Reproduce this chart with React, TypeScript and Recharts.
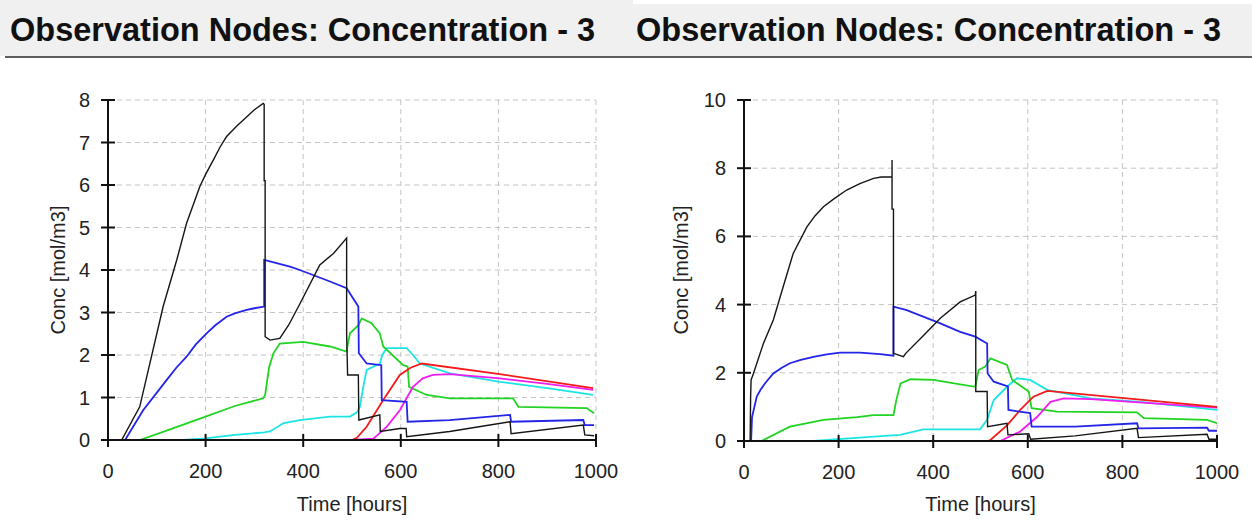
import { LineChart, Line, XAxis, YAxis, CartesianGrid } from 'recharts';

type Pt = [number, number];

// [time (hours), conc (mol/m3)]
const timeTicks = [0, 200, 400, 600, 800, 1000];
const leftConcTicks = [0, 1, 2, 3, 4, 5, 6, 7, 8];
const rightConcTicks = [0, 2, 4, 6, 8, 10];
const panelTitle = 'Observation Nodes: Concentration - 3';

const leftBlack: Pt[] = [
  [28, 0], [65, 0.78], [113, 3.14], [141, 4.24], [161, 5.1], [188, 5.96], [200, 6.25], [216, 6.59],
  [230, 6.9], [243, 7.14], [265, 7.4], [284, 7.6], [300, 7.77], [318, 7.92], [320, 7.9], [320, 6.1],
  [322, 6.1], [322, 2.43], [332, 2.35], [352, 2.39], [370, 2.7], [393, 3.2], [434, 4.12], [462, 4.39],
  [489, 4.75], [489, 2.5], [491, 1.53], [513, 1.53], [514, 0.47], [557, 0.59], [558, 0.2], [598, 0.27],
  [611, 0.27], [612, 0.08], [700, 0.2], [824, 0.43], [826, 0.15], [974, 0.35], [977, 0.12], [996, 0.1],
];
const leftBlue: Pt[] = [
  [35, 0], [72, 0.7], [120, 1.41], [140, 1.7], [161, 1.96], [180, 2.25], [202, 2.51], [220, 2.7],
  [243, 2.9], [260, 2.98], [284, 3.06], [300, 3.1], [320, 3.14], [320, 4.24], [373, 4.08], [393, 4.0],
  [455, 3.73], [489, 3.57], [513, 3.14], [514, 2.04], [530, 1.8], [560, 1.76], [561, 0.94], [612, 0.9],
  [614, 0.43], [700, 0.47], [824, 0.59], [826, 0.43], [974, 0.47], [977, 0.35], [996, 0.35],
];
const leftGreen: Pt[] = [
  [65, 0], [120, 0.22], [200, 0.55], [260, 0.8], [318, 0.98], [322, 1.06], [330, 1.7], [339, 2.04],
  [352, 2.27], [400, 2.31], [455, 2.2], [489, 2.08], [492, 2.3], [496, 2.51], [513, 2.7], [520, 2.86],
  [540, 2.75], [557, 2.51], [564, 2.2], [605, 1.76], [614, 1.73], [617, 1.25], [653, 1.06], [701, 0.98],
  [830, 0.98], [841, 0.78], [981, 0.75], [996, 0.63],
];
const leftCyan: Pt[] = [
  [154, 0], [200, 0.04], [260, 0.12], [320, 0.18], [332, 0.2], [360, 0.4], [393, 0.47], [455, 0.55],
  [496, 0.55], [510, 0.65], [516, 0.78], [524, 1.3], [530, 1.65], [557, 1.8], [562, 2.0], [571, 2.16],
  [612, 2.16], [625, 2.0], [639, 1.8], [701, 1.57], [803, 1.37], [900, 1.22], [994, 1.06],
];
const leftRed: Pt[] = [
  [320, 0], [500, 0], [510, 0.05], [530, 0.31], [564, 0.94], [598, 1.53], [620, 1.7], [643, 1.8],
  [803, 1.55], [994, 1.22],
];
const leftMagenta: Pt[] = [
  [500, 0], [544, 0.03], [571, 0.31], [598, 0.7], [625, 1.25], [645, 1.45], [666, 1.53], [701, 1.55],
  [803, 1.45], [900, 1.32], [994, 1.18],
];

const rightBlack: Pt[] = [
  [13, 0], [14, 1.3], [15, 1.79], [20, 1.98], [41, 2.86], [62, 3.55], [83, 4.53], [104, 5.5],
  [133, 6.28], [150, 6.6], [168, 6.87], [190, 7.1], [217, 7.36], [245, 7.55], [274, 7.7], [290, 7.74],
  [313, 7.74], [313, 8.24], [313, 6.8], [316, 6.8], [316, 2.57], [337, 2.47], [342, 2.57], [380, 3.1],
  [415, 3.6], [457, 4.08], [489, 4.28], [490, 4.4], [490, 1.45], [514, 1.45], [515, 0.42], [556, 0.52],
  [558, 0.18], [602, 0.21], [606, 0.05], [700, 0.15], [831, 0.37], [834, 0.1], [979, 0.2], [983, 0.05],
  [1000, 0.05],
];
const rightBlue: Pt[] = [
  [15, 0], [17, 0.7], [27, 1.3], [35, 1.5], [45, 1.7], [62, 1.98], [80, 2.15], [97, 2.28],
  [120, 2.38], [147, 2.47], [175, 2.54], [203, 2.59], [245, 2.59], [288, 2.55], [316, 2.5], [316, 3.94],
  [344, 3.84], [415, 3.45], [457, 3.2], [489, 3.06], [514, 2.86], [515, 1.98], [528, 1.74], [558, 1.6],
  [559, 0.91], [605, 0.82], [608, 0.42], [700, 0.42], [831, 0.52], [834, 0.37], [979, 0.39], [983, 0.3],
  [1000, 0.3],
];
const rightGreen: Pt[] = [
  [37, 0], [97, 0.42], [168, 0.62], [239, 0.7], [274, 0.76], [316, 0.76], [322, 1.2], [331, 1.69],
  [352, 1.81], [401, 1.79], [457, 1.66], [489, 1.59], [496, 2.08], [510, 2.18], [521, 2.42], [556, 2.23],
  [567, 1.79], [602, 1.45], [608, 0.96], [662, 0.86], [831, 0.84], [845, 0.67], [979, 0.62], [1000, 0.52],
];
const rightCyan: Pt[] = [
  [147, 0], [274, 0.13], [330, 0.18], [379, 0.34], [499, 0.34], [514, 0.62], [528, 1.2], [556, 1.59],
  [577, 1.84], [605, 1.79], [641, 1.5], [733, 1.25], [838, 1.15], [1000, 0.91],
];
const rightRed: Pt[] = [
  [362, 0], [515, 0], [521, 0.03], [556, 0.46], [584, 0.91], [612, 1.3], [641, 1.47], [1000, 1.0],
];
const rightMagenta: Pt[] = [
  [542, 0], [584, 0.28], [620, 0.71], [648, 1.15], [676, 1.25], [733, 1.23], [850, 1.12], [1000, 0.98],
];

const FONT = '"Liberation Sans", Arial, sans-serif';
const TEXT = '#222';
const AXIS = '#111';

type Series = { pts: Pt[]; color: string; width: number };

const toRows = (pts: Pt[]) => pts.map(([t, c]) => ({ t, c }));

const YTick = (props: any) => {
  const { x, y, payload } = props;
  return (
    <g>
      <line x1={x - 7} x2={x + 7} y1={y} y2={y} stroke={AXIS} strokeWidth={2} />
      <text x={x - 18} y={y} dy={7} textAnchor="end" fontSize={20} fill={TEXT} fontFamily={FONT}>
        {payload.value}
      </text>
    </g>
  );
};

const XTick = (props: any) => {
  const { x, y, payload } = props;
  return (
    <g>
      <line x1={x} x2={x} y1={y - 6} y2={y + 7} stroke={AXIS} strokeWidth={2} />
      <text x={x} y={y + 38} textAnchor="middle" fontSize={20} fill={TEXT} fontFamily={FONT}>
        {payload.value}
      </text>
    </g>
  );
};

function Panel(props: {
  left: number;
  series: Series[];
  yTicks: number[];
  yAxisWidth: number;
  rightMargin: number;
  xAxisHeight: number;
  yLabelX: number;
}) {
  const { left, series, yTicks, yAxisWidth, rightMargin, xAxisHeight, yLabelX } = props;
  const plotLeft = yAxisWidth;
  const plotRight = 626 - rightMargin;
  return (
    <div style={{ position: 'absolute', left, top: 0, width: 626, height: 523 }}>
      <LineChart width={626} height={523} margin={{ top: 100, right: rightMargin, bottom: 0, left: 0 }}>
        <CartesianGrid stroke="#c4c4c4" strokeDasharray="5 4" />
        <XAxis
          dataKey="t"
          type="number"
          domain={[0, 1000]}
          ticks={timeTicks}
          height={xAxisHeight}
          axisLine={{ stroke: AXIS, strokeWidth: 2 }}
          tickLine={false}
          tickSize={0}
          tickMargin={0}
          tick={<XTick />}
          allowDataOverflow
        />
        <YAxis
          type="number"
          domain={[0, yTicks[yTicks.length - 1]]}
          ticks={yTicks}
          width={yAxisWidth}
          axisLine={{ stroke: AXIS, strokeWidth: 2 }}
          tickLine={false}
          tickSize={0}
          tickMargin={0}
          tick={<YTick />}
          allowDataOverflow
        />
        {series.map((s, i) => (
          <Line
            key={i}
            data={toRows(s.pts)}
            dataKey="c"
            type="linear"
            stroke={s.color}
            strokeWidth={s.width}
            dot={false}
            activeDot={false}
            isAnimationActive={false}
          />
        ))}
      </LineChart>
      <div
        style={{
          position: 'absolute', left: yLabelX - 100, top: 270 - 12, width: 200, height: 24,
          textAlign: 'center', transform: 'rotate(-90deg)', fontFamily: FONT, fontSize: 20,
          lineHeight: '24px', color: TEXT,
        }}
      >
        Conc [mol/m3]
      </div>
      <div
        style={{
          position: 'absolute', left: plotLeft, top: 492, width: plotRight - plotLeft, height: 24,
          textAlign: 'center', fontFamily: FONT, fontSize: 20, lineHeight: '24px', color: TEXT,
        }}
      >
        Time [hours]
      </div>
    </div>
  );
}

const leftSeries: Series[] = [
  { pts: leftCyan, color: '#1de4e4', width: 1.8 },
  { pts: leftGreen, color: '#22d422', width: 1.8 },
  { pts: leftMagenta, color: '#f01cf0', width: 1.8 },
  { pts: leftRed, color: '#f41a1a', width: 1.8 },
  { pts: leftBlue, color: '#2424e8', width: 1.8 },
  { pts: leftBlack, color: '#151515', width: 1.4 },
];
const rightSeries: Series[] = [
  { pts: rightCyan, color: '#1de4e4', width: 1.8 },
  { pts: rightGreen, color: '#22d422', width: 1.8 },
  { pts: rightMagenta, color: '#f01cf0', width: 1.8 },
  { pts: rightRed, color: '#f41a1a', width: 1.8 },
  { pts: rightBlue, color: '#2424e8', width: 1.8 },
  { pts: rightBlack, color: '#151515', width: 1.4 },
];

const titleStyle = {
  position: 'absolute' as const,
  top: 0,
  height: 56,
  background: '#f0f0f0',
  fontFamily: FONT,
  fontWeight: 'bold' as const,
  fontSize: 32.5,
  lineHeight: '61px',
  color: '#111',
  whiteSpace: 'nowrap' as const,
  overflow: 'hidden',
};

export default function App() {
  return (
    <div style={{ position: 'absolute', left: 0, top: 0, width: 1252, height: 523, background: '#fff', overflow: 'hidden' }}>
      <div style={{ ...titleStyle, left: 0, width: 633, paddingLeft: 10, boxSizing: 'border-box' }}>{panelTitle}</div>
      <div style={{ ...titleStyle, left: 633, top: 4, height: 52, lineHeight: '53px', width: 619, paddingLeft: 3, boxSizing: 'border-box' }}>{panelTitle}</div>
      <div style={{ position: 'absolute', left: 5, top: 56, width: 1247, height: 2, background: '#5e5e5e' }} />
      <Panel left={0} series={leftSeries} yTicks={leftConcTicks} yAxisWidth={108} rightMargin={30} xAxisHeight={83} yLabelX={58} />
      <Panel left={626} series={rightSeries} yTicks={rightConcTicks} yAxisWidth={118} rightMargin={35} xAxisHeight={82} yLabelX={55} />
    </div>
  );
}
